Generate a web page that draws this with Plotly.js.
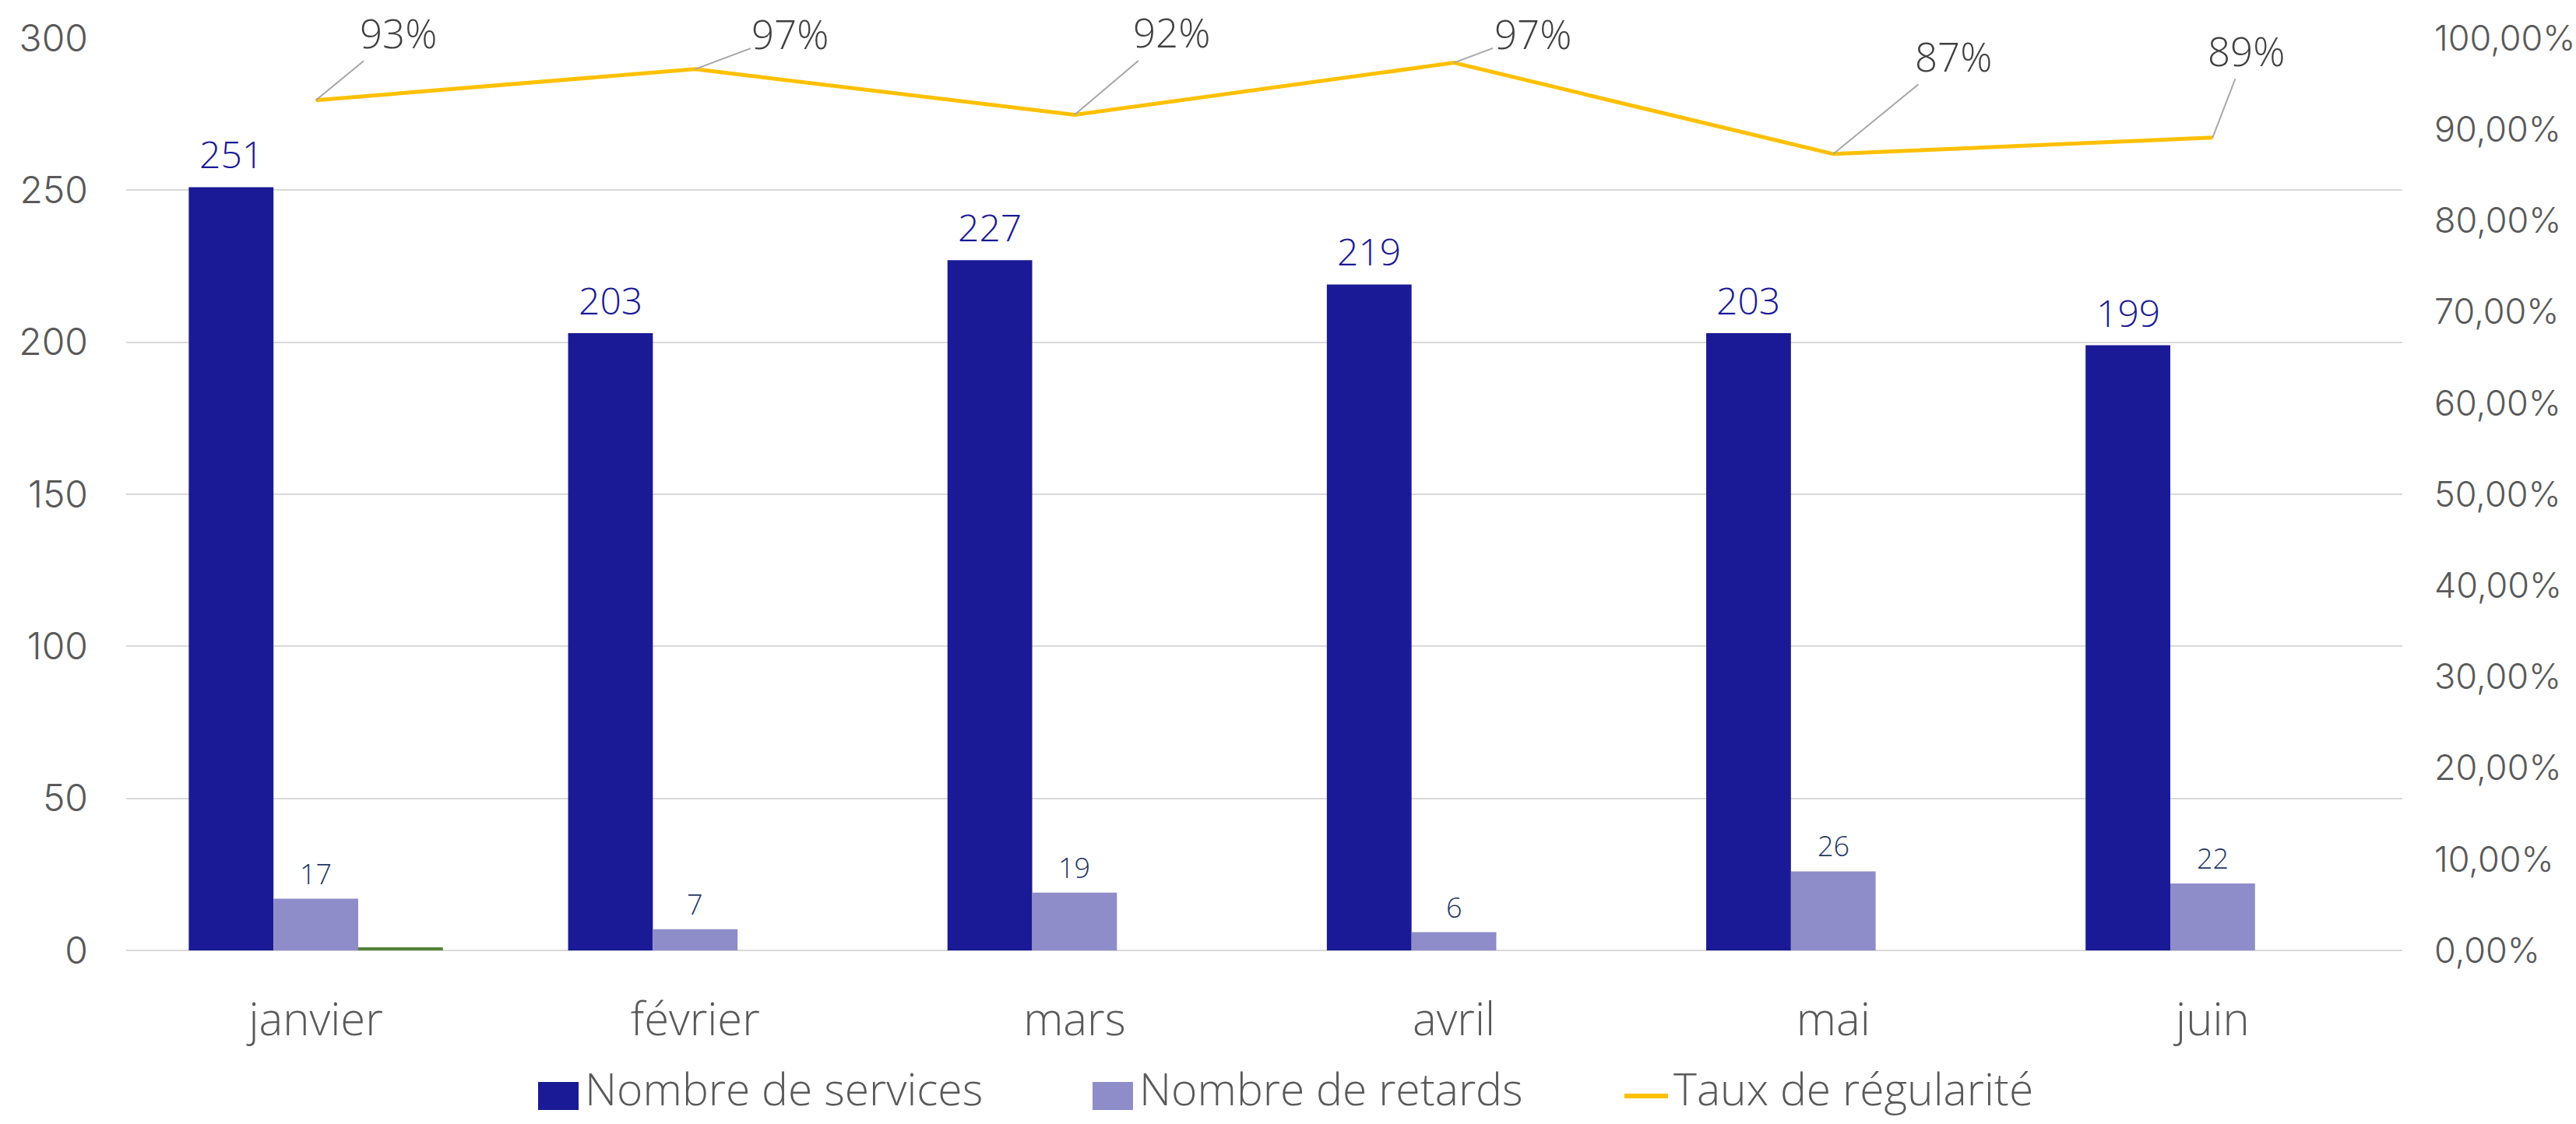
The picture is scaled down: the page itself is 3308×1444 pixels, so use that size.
<!DOCTYPE html>
<html>
<head>
<meta charset="utf-8">
<script src="https://cdn.plot.ly/plotly-3.0.1.min.js"></script>
<style>html,body{margin:0;padding:0;background:#fff;}#chart{width:3308px;height:1444px;}</style>
</head>
<body>
<div id="chart"></div>
<script>
const months = ["janvier", "février", "mars", "avril", "mai", "juin"];
const services = [251, 203, 227, 219, 203, 199];
const retards = [17, 7, 19, 6, 26, 22];
const hiddenSeries = [1, null, null, null, null, null];
const regularite = [0.932, 0.966, 0.916, 0.973, 0.873, 0.891];
const seriesNames = ["Nombre de services", "Nombre de retards", "Taux de régularité"];
const labelOffsetX = [106, 122, 125, 101, 154, 43];
const labelOffsetY = [-87, -46, -106, -38, -126, -112];

const TXT = "Open Sans";
const NUM = "Inter";
const COL_SERV = "#1A1A96", COL_RET = "#8E8CC9", COL_LINE = "#FFC000";

const W = 3308, H = 1444;
const M = {l: 162, r: 223, t: 49, b: 223};
const PW = W - M.l - M.r, PH = H - M.t - M.b;
const BARGAP = 0.33;
const barW = PW / months.length * (1 - BARGAP) / 3;
const px = x => (x - M.l) / PW;
const py = y => (H - M.b - y) / PH;

const traces = [
  {type: "bar", name: seriesNames[0], x: months, y: services, marker: {color: COL_SERV}, showlegend: false},
  {type: "bar", name: seriesNames[1], x: months, y: retards, marker: {color: COL_RET}, showlegend: false},
  {type: "bar", name: "", x: months, y: hiddenSeries, showlegend: false, marker: {color: "#548235"}},
  {type: "scatter", mode: "lines", name: seriesNames[2], x: months, y: regularite,
   yaxis: "y2", line: {color: COL_LINE, width: 5}, cliponaxis: false, showlegend: false}
];

const annotations = [];
regularite.forEach((v, i) => annotations.push({
  x: months[i], y: v, xref: "x", yref: "y2",
  text: Math.round(v * 100) + "%",
  showarrow: true, arrowhead: 0, arrowwidth: 2, arrowcolor: "#A6A6A6",
  ax: labelOffsetX[i], ay: labelOffsetY[i], standoff: 0, startstandoff: 0,
  font: {size: 51, color: "#404040", family: TXT, weight: 300}
}));
services.forEach((v, i) => annotations.push({
  x: months[i], y: v, xref: "x", yref: "y", text: String(v), showarrow: false,
  xshift: -barW, yshift: 8, yanchor: "bottom",
  font: {size: 48, color: COL_SERV, family: TXT, weight: 300}
}));
retards.forEach((v, i) => annotations.push({
  x: months[i], y: v, xref: "x", yref: "y", text: String(v), showarrow: false,
  xshift: 0, yshift: 6, yanchor: "bottom",
  font: {size: 36, color: "#1F3864", family: TXT, weight: 300}
}));

// custom legend
const legFont = {size: 57, color: "#595959", family: TXT, weight: 300};
const legY = 1408;
const legendItems = [
  {sym: "rect", color: COL_SERV, x0: 691, x1: 743, tx: 750, name: seriesNames[0]},
  {sym: "rect", color: COL_RET, x0: 1403, x1: 1455, tx: 1462, name: seriesNames[1]},
  {sym: "line", color: COL_LINE, x0: 2086, x1: 2142, tx: 2148, name: seriesNames[2]}
];
const shapes = [];
legendItems.forEach(it => {
  if (it.sym === "rect") {
    shapes.push({type: "rect", xref: "paper", yref: "paper", x0: px(it.x0), x1: px(it.x1),
      y0: py(legY + 18), y1: py(legY - 18), fillcolor: it.color, line: {width: 0}});
  } else {
    shapes.push({type: "line", xref: "paper", yref: "paper", x0: px(it.x0), x1: px(it.x1),
      y0: py(legY), y1: py(legY), line: {color: it.color, width: 6}});
  }
  annotations.push({xref: "paper", yref: "paper", x: px(it.tx), y: py(legY - 10), xanchor: "left",
    yanchor: "middle", text: it.name, showarrow: false, font: legFont, borderpad: 0});
});

const layout = {
  width: W, height: H,
  margin: Object.assign({autoexpand: false}, M),
  paper_bgcolor: "#ffffff", plot_bgcolor: "#ffffff",
  font: {family: TXT, weight: 300, color: "#595959"},
  separators: ", ",
  barmode: "group", bargap: BARGAP, bargroupgap: 0,
  showlegend: false,
  xaxis: {type: "category", showgrid: false, showline: false, zeroline: false,
          ticks: "", tickfont: {size: 58, color: "#595959", family: TXT, weight: 300},
          ticklabelstandoff: 50},
  yaxis: {range: [0, 300], dtick: 50, tick0: 0, showgrid: true, gridcolor: "#D9D9D9", gridwidth: 2,
          zeroline: true, zerolinecolor: "#D9D9D9", zerolinewidth: 2, showline: false, ticks: "",
          tickfont: {size: 48, color: "#595959", family: NUM, weight: 300},
          ticklabelstandoff: 48},
  yaxis2: {overlaying: "y", side: "right", range: [0, 1], dtick: 0.1, tick0: 0,
           tickformat: ".2%", showgrid: false, zeroline: false, showline: false, ticks: "",
           tickfont: {size: 45, color: "#595959", family: NUM, weight: 300},
           ticklabelstandoff: 40},
  annotations: annotations,
  shapes: shapes
};

Plotly.newPlot("chart", traces, layout, {displayModeBar: false, staticPlot: true});
</script>
</body>
</html>
